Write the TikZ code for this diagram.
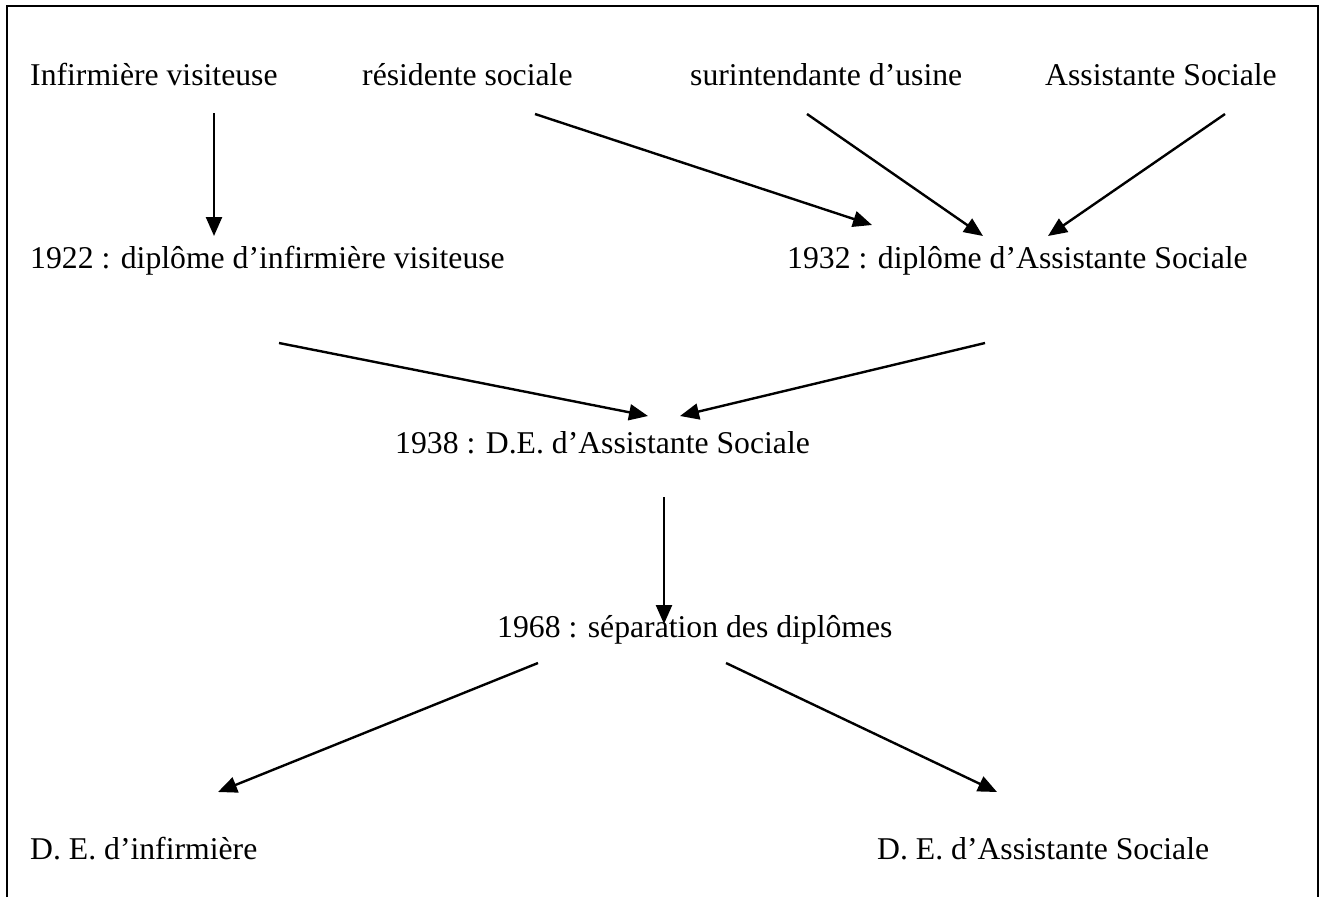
\documentclass[tikz,border=0pt]{standalone}
\usepackage{fontspec}
\setmainfont{Liberation Serif}
\usetikzlibrary{arrows.meta}
\begin{document}
\begin{tikzpicture}[x=1pt,y=-1pt,
  lbl/.style={anchor=base west,inner sep=0pt,font=\fontsize{31.7}{36}\selectfont},
  arr/.style={line width=2.4pt,-{Triangle[length=19pt,width=16pt]}},
  frame/.style={line width=2.2pt}]
\useasboundingbox (0,0) rectangle (1325,897);
\draw[frame] (7,897) -- (7,6) -- (1318,6) -- (1318,897);
% row 1
\node[lbl] (iv) at (30,85) {Infirmière visiteuse};
\node[lbl] (rs) at (362,85) {résidente sociale};
\node[lbl] (su) at (690,85) {surintendante d’usine};
\node[lbl] (as) at (1045,85) {Assistante Sociale};
% row 2
\node[lbl] (d22) at (30,268) {1922 : diplôme d’infirmière visiteuse};
\node[lbl] (d32) at (787,268) {1932 : diplôme d’Assistante Sociale};
% row 3
\node[lbl] (d38) at (395,453) {1938 : D.E. d’Assistante Sociale};
% row 4
\node[lbl] (d68) at (497,637) {1968 : séparation des diplômes};
% row 5
\node[lbl] (dei) at (30,859) {D. E. d’infirmière};
\node[lbl] (deas) at (877,859) {D. E. d’Assistante Sociale};
% connector ends
\coordinate (a1s) at (214,113); \coordinate (a1e) at (214,236);
\coordinate (a2s) at (535,114); \coordinate (a2e) at (872,225);
\coordinate (a3s) at (807,114); \coordinate (a3e) at (983,236);
\coordinate (a4s) at (1225,114); \coordinate (a4e) at (1048,236);
\coordinate (a5s) at (279,343); \coordinate (a5e) at (648,416);
\coordinate (a6s) at (985,343); \coordinate (a6e) at (680,416);
\coordinate (a7s) at (664,497); \coordinate (a7e) at (664,624);
\coordinate (a8s) at (538,663); \coordinate (a8e) at (218,792);
\coordinate (a9s) at (726,663); \coordinate (a9e) at (997,792);
\draw[arr] (a1s) -- (a1e);
\draw[arr] (a2s) -- (a2e);
\draw[arr] (a3s) -- (a3e);
\draw[arr] (a4s) -- (a4e);
\draw[arr] (a5s) -- (a5e);
\draw[arr] (a6s) -- (a6e);
\draw[arr] (a7s) -- (a7e);
\draw[arr] (a8s) -- (a8e);
\draw[arr] (a9s) -- (a9e);
\end{tikzpicture}
\end{document}
